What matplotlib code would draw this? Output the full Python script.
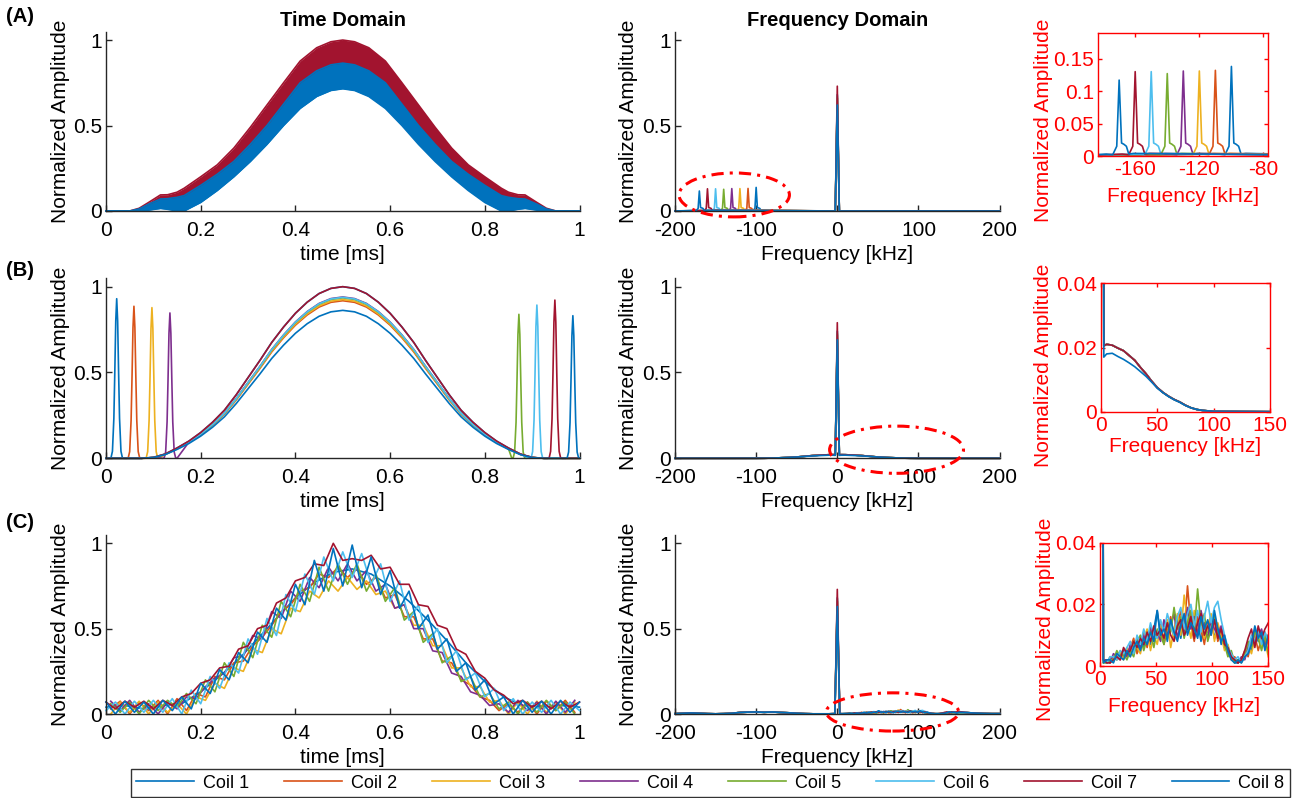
import numpy as np
import matplotlib
matplotlib.use('Agg')
import matplotlib.pyplot as plt
from matplotlib.patches import Ellipse
from matplotlib.lines import Line2D
from matplotlib.ticker import FormatStrFormatter

plt.rcParams['font.family'] = ['Liberation Sans', 'DejaVu Sans']

# ------------------------------------------------------------------ data
coil_names = ['Coil 1', 'Coil 2', 'Coil 3', 'Coil 4', 'Coil 5', 'Coil 6', 'Coil 7', 'Coil 8']
coil_colors = ['#0072BD', '#D95319', '#EDB120', '#7E2F8E', '#77AC30', '#4DBEEE', '#A2142F', '#0072BD']

tA = [0, 0.05, 0.07, 0.09, 0.115, 0.13, 0.15, 0.165, 0.2, 0.235, 0.27, 0.305, 0.34, 0.375, 0.41, 0.445, 0.475,
      0.5, 0.525, 0.555, 0.59, 0.625, 0.66, 0.695, 0.73, 0.765, 0.8, 0.835, 0.85, 0.87, 0.885, 0.91, 0.93, 0.95, 1.0]
A7_hi = [0, 0, 0.016, 0.05, 0.094, 0.095, 0.11, 0.133, 0.2, 0.27, 0.368, 0.49, 0.62, 0.75, 0.877, 0.955, 0.99,
         1.0, 0.99, 0.955, 0.877, 0.75, 0.62, 0.49, 0.368, 0.27, 0.2, 0.133, 0.11, 0.095, 0.094, 0.05, 0.016, 0, 0]
A7_lo = [0, 0, 0, 0.01, 0.03, 0.03, 0.02, 0.0, 0.09, 0.16, 0.24, 0.34, 0.44, 0.55, 0.66, 0.74, 0.78,
         0.79, 0.78, 0.74, 0.66, 0.55, 0.44, 0.34, 0.24, 0.16, 0.09, 0.0, 0.02, 0.03, 0.03, 0.01, 0, 0, 0]
A8_hi = [0, 0, 0.012, 0.04, 0.07, 0.072, 0.08, 0.09, 0.15, 0.215, 0.29, 0.39, 0.5, 0.625, 0.75, 0.82, 0.855,
         0.865, 0.855, 0.82, 0.75, 0.625, 0.5, 0.39, 0.29, 0.215, 0.15, 0.09, 0.08, 0.072, 0.07, 0.04, 0.012, 0, 0]
A8_lo = [0, 0, 0, 0.005, 0.015, 0.01, 0.0, 0.0, 0.05, 0.12, 0.2, 0.29, 0.39, 0.5, 0.6, 0.67, 0.705,
         0.715, 0.705, 0.67, 0.6, 0.5, 0.39, 0.29, 0.2, 0.12, 0.05, 0.0, 0.0, 0.01, 0.015, 0.005, 0, 0, 0]

# (A) frequency domain
A_f0 = [-100, -110, -120, -130, -140, -150, -160, -170]          # shifted peak of each coil [kHz]
A_peak = [0.138, 0.132, 0.131, 0.131, 0.127, 0.130, 0.130, 0.117]
A_center = [0.62, 0.66, 0.66, 0.68, 0.67, 0.68, 0.73, 0.62]
A_off_lo = [-8, -4, -1.5]
A_val_lo = [0.003, 0.002, 0.015]
A_off_hi = [1.5, 3, 4.5, 6, 9]
A_val_hi = [0.02, 0.018, 0.015, 0.003, 0.004]

# (B) time domain
tB = [0, 0.05, 0.075, 0.1, 0.125, 0.15, 0.175, 0.2, 0.225, 0.25, 0.275, 0.3, 0.325, 0.35, 0.375, 0.4, 0.425,
      0.45, 0.475, 0.5, 0.525, 0.55, 0.575, 0.6, 0.625, 0.65, 0.675, 0.7, 0.725, 0.75, 0.775, 0.8, 0.825, 0.85,
      0.875, 0.9, 0.925, 0.95, 1.0]
B_bell = [0, 0, 0, 0.005, 0.025, 0.06, 0.1, 0.15, 0.21, 0.28, 0.37, 0.47, 0.57, 0.675, 0.765, 0.845, 0.91,
          0.96, 0.99, 1.0, 0.99, 0.96, 0.91, 0.845, 0.765, 0.675, 0.57, 0.47, 0.37, 0.28, 0.21, 0.15, 0.1, 0.06,
          0.025, 0.005, 0, 0, 0]
B_peak = [1.0, 0.918, 0.925, 0.94, 0.935, 0.938, 1.0, 0.862]
B_spike_t = [0.0226, 0.059, 0.097, 0.135, 0.872, 0.91, 0.948, 0.986]
B_spike_h = [0.93, 0.886, 0.878, 0.847, 0.839, 0.893, 0.922, 0.831]
spike_off = [-0.015, -0.012, -0.009, -0.006, -0.004, -0.002, 0, 0.002, 0.004, 0.006, 0.009, 0.012, 0.015]
spike_shape = [0, 0.004, 0.044, 0.25, 0.54, 0.86, 1, 0.86, 0.54, 0.25, 0.044, 0.004, 0]

# (B) frequency domain
fB = [-200, -150, -100, -90, -80, -70, -60, -50, -40, -30, -20, -10, -5, -2.5, 0, 2.5, 5, 10, 15, 20, 25, 30,
      35, 40, 45, 50, 55, 60, 65, 70, 75, 80, 85, 90, 100, 150, 200]
B_hump = [0, 0, 0.0001, 0.0004, 0.0012, 0.003, 0.0048, 0.0075, 0.0118, 0.016, 0.019, 0.0207, 0.021, 0.0205, None,
          0.0205, 0.021, 0.0207, 0.0198, 0.019, 0.0175, 0.016, 0.0138, 0.0118, 0.0095, 0.0075, 0.006, 0.0048,
          0.0038, 0.003, 0.002, 0.0012, 0.0007, 0.0004, 0.0001, 0, 0]
B_hump_low = [0, 0, 0.0001, 0.0004, 0.0012, 0.003, 0.0047, 0.0073, 0.011, 0.014, 0.0163, 0.0182, 0.018, 0.017,
              None, 0.017, 0.018, 0.0182, 0.0172, 0.0163, 0.0152, 0.014, 0.0125, 0.011, 0.0092, 0.0073, 0.0059,
              0.0047, 0.0037, 0.0029, 0.0019, 0.0012, 0.0007, 0.0004, 0.0001, 0, 0]
B_center = [0.70, 0.72, 0.72, 0.74, 0.73, 0.74, 0.79, 0.69]

# (C) time domain (noisy): coils 6, 7, 8 sampled at even steps, 2-5 at odd steps
tC = [round(0.02 * i, 2) for i in range(51)]
tCo = [round(0.01 + 0.02 * i, 2) for i in range(50)]
C8 = [0.07, 0.0, 0.075, 0.01, 0.07, 0.0, 0.08, 0.02, 0.1, 0.03, 0.18, 0.12, 0.26, 0.2, 0.36, 0.3, 0.48, 0.42,
      0.62, 0.55, 0.76, 0.64, 0.9, 0.72, 0.97, 0.75, 0.99, 0.74, 0.92, 0.7, 0.84, 0.62, 0.72, 0.5, 0.58, 0.38,
      0.44, 0.25, 0.3, 0.14, 0.2, 0.06, 0.1, 0.0, 0.08, 0.01, 0.075, 0.0, 0.08, 0.01, 0.07]
C6 = [0.02, 0.07, 0.0, 0.075, 0.01, 0.08, 0.01, 0.09, 0.0, 0.14, 0.06, 0.22, 0.15, 0.3, 0.24, 0.44, 0.35, 0.56,
      0.46, 0.7, 0.6, 0.82, 0.7, 0.92, 0.78, 0.95, 0.8, 0.94, 0.76, 0.88, 0.66, 0.78, 0.55, 0.64, 0.42, 0.5,
      0.3, 0.37, 0.2, 0.24, 0.1, 0.15, 0.02, 0.09, 0.0, 0.07, 0.01, 0.08, 0.0, 0.07, 0.02]
C7 = [0.07, 0.03, 0.075, 0.04, 0.075, 0.03, 0.08, 0.05, 0.1, 0.12, 0.18, 0.2, 0.27, 0.28, 0.38, 0.4, 0.5, 0.52,
      0.65, 0.68, 0.78, 0.8, 0.88, 0.87, 1.0, 0.9, 0.91, 0.9, 0.93, 0.85, 0.86, 0.76, 0.76, 0.64, 0.63, 0.52,
      0.5, 0.38, 0.35, 0.25, 0.21, 0.14, 0.11, 0.06, 0.08, 0.04, 0.075, 0.03, 0.075, 0.04, 0.07]
C2 = [0.03, 0.075, 0.0, 0.07, 0.02, 0.08, 0.0, 0.09, 0.02, 0.12, 0.1, 0.22, 0.2, 0.3, 0.31, 0.4, 0.45, 0.52,
      0.6, 0.64, 0.72, 0.74, 0.82, 0.8, 0.86, 0.8, 0.85, 0.76, 0.8, 0.68, 0.7, 0.57, 0.57, 0.44, 0.44, 0.31,
      0.3, 0.2, 0.17, 0.1, 0.08, 0.02, 0.06, 0.01, 0.07, 0.0, 0.075, 0.02, 0.08, 0.01]
C3 = [0.0, 0.07, 0.01, 0.075, 0.0, 0.07, 0.01, 0.06, 0.0, 0.1, 0.08, 0.18, 0.15, 0.27, 0.25, 0.38, 0.36, 0.5,
      0.47, 0.62, 0.6, 0.72, 0.68, 0.78, 0.72, 0.8, 0.73, 0.78, 0.7, 0.72, 0.62, 0.64, 0.52, 0.52, 0.4, 0.4,
      0.27, 0.27, 0.16, 0.16, 0.07, 0.08, 0.0, 0.07, 0.0, 0.075, 0.01, 0.07, 0.0, 0.07]
C4 = [0.075, 0.02, 0.08, 0.01, 0.06, 0.0, 0.07, 0.03, 0.1, 0.09, 0.16, 0.21, 0.24, 0.33, 0.34, 0.46, 0.44, 0.6,
      0.56, 0.72, 0.66, 0.8, 0.74, 0.86, 0.78, 0.88, 0.78, 0.84, 0.72, 0.76, 0.62, 0.64, 0.5, 0.5, 0.37, 0.36,
      0.24, 0.22, 0.13, 0.11, 0.05, 0.06, 0.01, 0.08, 0.02, 0.07, 0.0, 0.075, 0.01, 0.08]
C5 = [0.06, 0.01, 0.07, 0.0, 0.08, 0.02, 0.08, 0.04, 0.12, 0.06, 0.2, 0.13, 0.3, 0.22, 0.42, 0.33, 0.52, 0.45,
      0.66, 0.57, 0.76, 0.66, 0.86, 0.72, 0.88, 0.76, 0.88, 0.72, 0.82, 0.66, 0.74, 0.55, 0.6, 0.42, 0.47, 0.3,
      0.34, 0.19, 0.22, 0.1, 0.12, 0.03, 0.07, 0.0, 0.07, 0.01, 0.08, 0.02, 0.07, 0.0]
tC1 = [round(0.04 * i, 2) for i in range(26)]
C1 = [0.04, 0.05, 0.03, 0.05, 0.06, 0.13, 0.22, 0.32, 0.44, 0.56, 0.68, 0.77, 0.83, 0.85, 0.82, 0.75, 0.66,
      0.55, 0.43, 0.3, 0.19, 0.1, 0.05, 0.04, 0.05, 0.04]

# (C) frequency domain, 0..150 kHz (values x 1e-3)
fC = [3 * i for i in range(51)]
C_spec = [
    [620, 2, 1, 2, 3, 2, 4, 3, 5, 4, 7, 5, 8, 6, 10, 7, 12, 18, 9, 13, 8, 14, 10, 15, 9, 16, 12, 17, 10, 15, 8,
     14, 11, 16, 9, 13, 7, 9, 4, 3, 1, 1, 2, 4, 6, 5, 12, 8, 10, 6, 9],
    [660, 2, 1, 3, 2, 4, 3, 5, 4, 6, 9, 4, 7, 11, 6, 12, 8, 10, 14, 7, 12, 16, 9, 13, 18, 11, 26, 13, 8, 16, 12,
     7, 14, 10, 15, 8, 11, 6, 5, 2, 3, 1, 2, 5, 3, 8, 10, 5, 9, 11, 7],
    [660, 1, 2, 1, 3, 2, 5, 2, 6, 3, 8, 6, 4, 9, 12, 5, 10, 7, 13, 9, 15, 6, 12, 17, 10, 23, 14, 9, 18, 11, 15,
     9, 12, 17, 8, 14, 10, 5, 7, 3, 2, 2, 1, 3, 7, 4, 9, 11, 6, 8, 3],
    [680, 2, 2, 1, 4, 3, 2, 5, 3, 7, 5, 9, 6, 10, 7, 13, 9, 11, 8, 15, 10, 13, 17, 9, 14, 11, 19, 12, 16, 10,
     18, 13, 9, 15, 12, 10, 13, 8, 4, 4, 2, 1, 3, 2, 6, 9, 7, 10, 12, 7, 10],
    [670, 1, 1, 2, 2, 5, 3, 4, 2, 5, 3, 8, 10, 5, 9, 11, 6, 12, 10, 7, 14, 11, 19, 12, 16, 9, 14, 18, 11, 25,
     13, 17, 8, 12, 16, 11, 9, 7, 3, 5, 1, 2, 2, 4, 8, 6, 11, 9, 5, 10, 4],
    [680, 2, 1, 3, 3, 2, 5, 4, 6, 8, 4, 10, 7, 12, 8, 14, 10, 9, 15, 11, 17, 13, 10, 16, 19, 12, 17, 20, 13, 18,
     11, 16, 21, 14, 19, 21, 15, 10, 6, 4, 2, 3, 1, 3, 5, 10, 8, 12, 7, 11, 8],
    [730, 2, 1, 1, 2, 3, 2, 6, 4, 5, 8, 6, 9, 7, 11, 8, 13, 10, 12, 9, 14, 10, 8, 13, 15, 10, 12, 16, 9, 14, 17,
     10, 13, 11, 15, 9, 12, 7, 6, 3, 2, 1, 2, 5, 9, 12, 6, 13, 9, 12, 14],
    [630, 1, 2, 2, 1, 4, 3, 2, 5, 3, 6, 8, 5, 9, 7, 11, 8, 18, 10, 12, 9, 15, 11, 8, 13, 17, 10, 14, 12, 9, 16,
     12, 15, 10, 18, 12, 8, 10, 5, 2, 1, 2, 1, 3, 4, 7, 13, 9, 11, 5, 10],
]
fC_neg = [-200, -190, -180, -170, -160, -150, -140, -130, -120, -110, -100, -90, -80, -70, -60, -50, -40, -30,
          -20, -10, -3]
C_neg = [2, 4, 6, 4, 2, 1, 2, 4, 9, 11, 12, 10, 12, 9, 7, 4, 2, 1, 1, 1, 2]
fC_tail = [160, 170, 180, 190, 200]
C_tail = [8, 5, 3, 2, 2]

for arr in (A7_hi, A7_lo, A8_hi, A8_lo):
    assert len(arr) == len(tA)
assert len(B_bell) == len(tB)
assert len(B_hump) == len(fB) and len(B_hump_low) == len(fB)
for arr in (C8, C6, C7):
    assert len(arr) == len(tC)
for arr in (C2, C3, C4, C5):
    assert len(arr) == len(tCo)
for arr in C_spec:
    assert len(arr) == len(fC)

# ------------------------------------------------------------------ layout
W, H = 1298, 798
fig = plt.figure(figsize=(W / 100, H / 100), dpi=100)


def rect(x0, x1, ytop, ybot):
    return [x0 / W, 1 - ybot / H, (x1 - x0) / W, (ybot - ytop) / H]


AX = '#262626'
RED = '#FF0000'
FS = 15
LW = 1.2


def main_style(ax, xlim, xticks, xlabel, ylabel_x):
    ax.set_xlim(*xlim)
    ax.set_ylim(0, 1.05)
    ax.set_xticks(xticks)
    ax.set_yticks([0, 0.5, 1])
    ax.xaxis.set_major_formatter(FormatStrFormatter('%g'))
    ax.yaxis.set_major_formatter(FormatStrFormatter('%g'))
    for s in ('top', 'right'):
        ax.spines[s].set_visible(False)
    for s in ('left', 'bottom'):
        ax.spines[s].set_color(AX)
        ax.spines[s].set_linewidth(1.0)
    ax.tick_params(direction='in', length=4, width=1.0, color=AX, labelcolor='black', labelsize=FS, pad=3)
    ax.tick_params(axis='x', pad=7)
    ax.set_xlabel(xlabel, fontsize=FS, labelpad=3.5)
    ax.set_ylabel('Normalized Amplitude', fontsize=FS)
    ax.yaxis.set_label_coords(ylabel_x, 0.5)


def inset_style(ax, xlim, xticks, ylim, yticks, ylab_xy, xlab_y):
    ax.set_xlim(*xlim)
    ax.set_ylim(*ylim)
    ax.set_xticks(xticks)
    ax.set_yticks(yticks)
    ax.xaxis.set_major_formatter(FormatStrFormatter('%g'))
    ax.yaxis.set_major_formatter(FormatStrFormatter('%g'))
    for s in ax.spines.values():
        s.set_color(RED)
        s.set_linewidth(1.0)
    ax.tick_params(direction='in', length=3, width=1.0, color=RED, labelcolor=RED, labelsize=FS, pad=3,
                   top=True, right=True)
    ax.set_xlabel('Frequency [kHz]', fontsize=FS, color=RED)
    ax.set_ylabel('Normalized Amplitude', fontsize=FS, color=RED)
    ax.yaxis.set_label_coords(*ylab_xy)
    ax.xaxis.set_label_coords(0.5, xlab_y)


LEFT = (106, 579.5)
MID = (675, 999.6)
rows = [(31.5, 211), (278.1, 458.3), (534.8, 714)]

axL = [fig.add_axes(rect(LEFT[0], LEFT[1], *r)) for r in rows]
axM = [fig.add_axes(rect(MID[0], MID[1], *r)) for r in rows]
axI = [fig.add_axes(rect(1098.3, 1268.3, 32.7, 156)),
       fig.add_axes(rect(1101, 1270, 283.3, 411.7)),
       fig.add_axes(rect(1100, 1268.3, 542.7, 666))]

# ------------------------------------------------------------------ (A)
ax = axL[0]
ax.fill_between(tA, A7_lo, A7_hi, color=coil_colors[6], lw=0)
ax.plot(tA, A7_hi, color=coil_colors[6], lw=LW, clip_on=False)
ax.fill_between(tA, A8_lo, A8_hi, color=coil_colors[7], lw=0)
ax.plot(tA, A8_hi, color=coil_colors[7], lw=LW, clip_on=False)
ax.plot(tA, A8_lo, color=coil_colors[7], lw=LW, clip_on=False)

for k in range(8):
    f = [-200] + [A_f0[k] + o for o in A_off_lo] + [A_f0[k]] + [A_f0[k] + o for o in A_off_hi] + [-2.5, 0, 2.5, 200]
    y = [0] + A_val_lo + [A_peak[k]] + A_val_hi + [0, A_center[k], 0, 0]
    axM[0].plot(f, y, color=coil_colors[k], lw=LW, clip_on=False)
    axI[0].plot(f, y, color=coil_colors[k], lw=LW)

# ------------------------------------------------------------------ (B)
for k in range(8):
    ts = B_spike_t[k]
    pts = [(t, v * B_peak[k]) for t, v in zip(tB, B_bell) if abs(t - ts) > 0.015]
    pts += [(ts + o, s * B_spike_h[k]) for o, s in zip(spike_off, spike_shape)]
    pts.sort()
    axL[1].plot([p[0] for p in pts], [p[1] for p in pts], color=coil_colors[k], lw=LW, clip_on=False)

    hump = B_hump_low if k == 7 else B_hump
    y = [B_center[k] if v is None else v for v in hump]
    axM[1].plot(fB, y, color=coil_colors[k], lw=LW, clip_on=False)
    axI[1].plot(fB, y, color=coil_colors[k], lw=LW)

# ------------------------------------------------------------------ (C)
ax = axL[2]
C_series = [(tC1, C1), (tCo, C2), (tCo, C3), (tCo, C4), (tCo, C5), (tC, C6), (tC, C7), (tC, C8)]
for k, (tt, yy) in enumerate(C_series):
    ax.plot(tt, yy, color=coil_colors[k], lw=LW, clip_on=False)

for k in range(8):
    f = fC_neg + fC + fC_tail
    y = [v / 1000 for v in C_neg + C_spec[k] + C_tail]
    axM[2].plot(f, y, color=coil_colors[k], lw=LW, clip_on=False)
    axI[2].plot(fC, [v / 1000 for v in C_spec[k]], color=coil_colors[k], lw=LW)

# ------------------------------------------------------------------ styling
for ax in axL:
    main_style(ax, (0, 1), [0, 0.2, 0.4, 0.6, 0.8, 1], 'time [ms]', -0.075)
for ax in axM:
    main_style(ax, (-200, 200), [-200, -100, 0, 100, 200], 'Frequency [kHz]', -0.115)

inset_style(axI[0], (-183, -77), [-160, -120, -80], (0, 0.19), [0, 0.05, 0.1, 0.15], (-0.265, 0.29), -0.25)
inset_style(axI[1], (0, 150), [0, 50, 100, 150], (0, 0.04), [0, 0.02, 0.04], (-0.285, 0.36), -0.195)
inset_style(axI[2], (0, 150), [0, 50, 100, 150], (0, 0.04), [0, 0.02, 0.04], (-0.27, 0.38), -0.25)

axL[0].set_title('Time Domain', fontsize=14.5, fontweight='bold', pad=4)
axM[0].set_title('Frequency Domain', fontsize=14.5, fontweight='bold', pad=4)

for lab, y in (('(A)', 17), ('(B)', 270), ('(C)', 523)):
    fig.text(6 / W, 1 - y / H, lab, fontsize=14.5, fontweight='bold', va='center', ha='left')

# dash-dot ellipses marking the zoomed regions
for ax, (cx, cy, w, h) in zip(axM, [(-127, 0.094, 136, 0.257), (73, 0.05, 165, 0.275), (68, 0.012, 163, 0.224)]):
    ax.add_patch(Ellipse((cx, cy), w, h, fill=False, ec=RED, lw=2.2, ls=(0, (4, 2, 1, 2)), clip_on=False,
                         zorder=10))

handles = [Line2D([], [], color=c, lw=LW) for c in coil_colors]
leg = fig.legend(handles, coil_names, loc='lower left', bbox_to_anchor=(131 / W, 1 / H, 1159 / W, 29 / H),
                 mode='expand', ncol=8, frameon=True, fancybox=False, edgecolor='black', fontsize=13,
                 handlelength=3.2, handletextpad=0.5, borderaxespad=0, borderpad=0.3)
leg.get_frame().set_linewidth(1.0)

fig.savefig('out.png', dpi=100)
